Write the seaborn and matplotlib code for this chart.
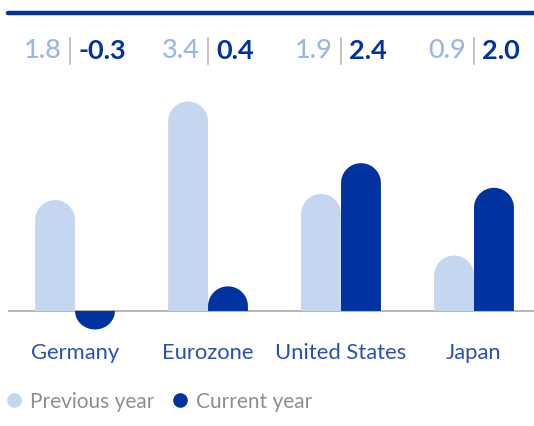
import numpy as np
import pandas as pd
import matplotlib
matplotlib.use('Agg')
import matplotlib.pyplot as plt
import matplotlib.transforms as mtransforms
from matplotlib.patches import Polygon
from matplotlib.lines import Line2D
import seaborn as sns

# data
countries = ['Germany', 'Eurozone', 'United States', 'Japan']
previous_year = [1.8, 3.4, 1.9, 0.9]
current_year = [-0.3, 0.4, 2.4, 2.0]
series_names = ['Previous year', 'Current year']
prev_labels = ['1.8', '3.4', '1.9', '0.9']
curr_labels = ['-0.3', '0.4', '2.4', '2.0']

LIGHT = '#c5d6f0'
DARK = '#0033a0'
LIGHT_TXT = '#9cb6e6'
CAT_TXT = '#2a50b2'
GREY_TXT = '#8e8e8e'
SEP = '#c9c0ba'
BASE = '#b5aeaa'

sns.set_theme(style='white')
plt.rcParams['font.family'] = ['Lato', 'DejaVu Sans']

df = pd.DataFrame({
    'country': countries * 2,
    'value': previous_year + current_year,
    'period': [series_names[0]] * len(countries) + [series_names[1]] * len(countries),
})

W, H = 534, 427
fig = plt.figure(figsize=(W / 100, H / 100), dpi=100)
ax = fig.add_axes([8 / W, (H - 340) / H, 526 / W, (340 - 14) / H])

sns.barplot(data=df, x='country', y='value', hue='period', palette=[LIGHT, DARK],
            width=0.6, saturation=1, errorbar=None, legend=False, ax=ax)
ax.set_xlim(-0.504, 3.451)
ax.set_ylim(-0.455, 4.838)
ax.set_xlabel('')
ax.set_ylabel('')
ax.set_yticks([])
sns.despine(ax=ax, left=True, bottom=True)
ax.tick_params(axis='x', length=0, pad=2, labelsize=15.8, labelcolor=CAT_TXT)

# lines: baseline and top rule
ax.axhline(0, color=BASE, lw=1.3, zorder=1)
ax.axhline(ax.get_ylim()[1], color=DARK, lw=3.2, clip_on=False)

# replace the square bars by bars with a round end
fig.canvas.draw()
p0 = ax.transData.transform((0, 0))
p1 = ax.transData.transform((1, 1))
px_x = p1[0] - p0[0]
px_y = p1[1] - p0[1]
for patch in list(ax.patches):
    x, w, h = patch.get_x(), patch.get_width(), patch.get_height()
    if w == 0 or h == 0:
        continue
    rx = w / 2
    ry = min(rx * px_x / px_y, abs(h))
    sgn = np.sign(h)
    cx = x + rx
    cy = h - sgn * ry
    t = np.linspace(np.pi, 0, 40)
    arc = np.column_stack([cx + rx * np.cos(t), cy + sgn * ry * np.sin(t)])
    pts = np.vstack([[x, 0], [x, cy], arc, [x + w, cy], [x + w, 0]])
    ax.add_patch(Polygon(pts, closed=True, facecolor=patch.get_facecolor(),
                         edgecolor='none', zorder=2))
    patch.set_visible(False)

# value labels at the top: "prev | curr", centred on the group
trans = mtransforms.blended_transform_factory(ax.transData, ax.transAxes)
y_txt = (340 - 51) / 326
y_sep0, y_sep1 = (340 - 65) / 326, (340 - 39) / 326
gap = 8
renderer = fig.canvas.get_renderer()
for i, (lp, lc) in enumerate(zip(prev_labels, curr_labels)):
    t_left = ax.text(i, y_txt, lp, transform=trans, ha='right', va='center',
                     fontsize=19.5, color=LIGHT_TXT, fontweight='medium')
    t_right = ax.text(i, y_txt, lc, transform=trans, ha='left', va='center',
                      fontsize=19.5, color=DARK, fontweight='bold')
    wl = t_left.get_window_extent(renderer).width
    wr = t_right.get_window_extent(renderer).width
    total = wl + wr + 2 * gap
    sep_px = -total / 2 + wl + gap
    sx = i + sep_px / px_x
    t_left.set_x(sx - gap / px_x)
    t_right.set_x(sx + gap / px_x)
    ax.add_line(Line2D([sx, sx], [y_sep0, y_sep1], transform=trans, color=SEP,
                       lw=1.5, clip_on=False))

handles = [Line2D([], [], marker='o', ls='', markersize=9.5, color=c, label=n)
           for c, n in zip([LIGHT, DARK], series_names)]
fig.legend(handles=handles, loc='center left', bbox_to_anchor=(6 / W, 25 / H),
           ncol=2, frameon=False, fontsize=15, labelcolor=GREY_TXT,
           borderpad=0, borderaxespad=0, handlelength=0.8,
           handletextpad=0.37, columnspacing=0.8)

fig.savefig('out.png', dpi=100)
